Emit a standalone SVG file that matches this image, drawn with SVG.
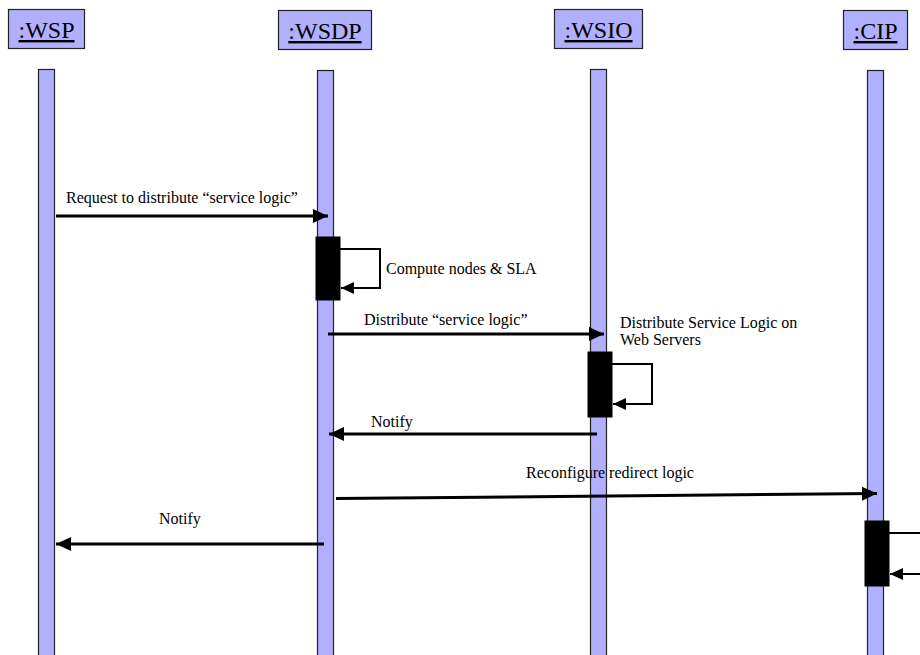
<svg xmlns="http://www.w3.org/2000/svg" width="920" height="655" viewBox="0 0 920 655">
<style>
.hd{fill:#b0b0ff;stroke:#222;stroke-width:1.2}
.ht{font-family:"Liberation Serif",serif;font-size:24px;fill:#000;text-anchor:middle;text-decoration:underline}
.ll{fill:#b0b0ff;stroke:#222;stroke-width:1.2}
.act{fill:#000;stroke:#000;stroke-width:1}
.msg{stroke:#000;stroke-width:3;fill:none}
.self{stroke:#000;stroke-width:2;fill:none}
.lb{font-family:"Liberation Serif",serif;font-size:16px;fill:#000}
</style>
<defs>
<marker id="ah" markerUnits="userSpaceOnUse" markerWidth="16" markerHeight="14" refX="15" refY="7" orient="auto">
<path d="M0,0 L15,7 L0,14 Z" fill="#000"/>
</marker>
<marker id="ahs" markerUnits="userSpaceOnUse" markerWidth="14" markerHeight="12" refX="13" refY="6" orient="auto">
<path d="M0,0 L13,6 L0,12 Z" fill="#000"/>
</marker>
</defs>
<rect width="920" height="655" fill="#fff"/>
<g id="wsp">
<rect class="hd" x="8.5" y="9.5" width="76" height="39"/>
<text class="ht" x="46.5" y="38">:WSP</text>
<rect class="ll" x="38.5" y="69.5" width="16" height="600"/>
</g>
<g id="wsdp">
<rect class="hd" x="278.5" y="10.5" width="93" height="39"/>
<text class="ht" x="325" y="39">:WSDP</text>
<rect class="ll" x="317.5" y="70.5" width="16" height="600"/>
<rect class="act" x="316" y="237" width="24" height="63"/>
</g>
<g id="wsio">
<rect class="hd" x="554.5" y="9.5" width="88" height="39"/>
<text class="ht" x="598.5" y="38">:WSIO</text>
<rect class="ll" x="590.5" y="69.5" width="16" height="600"/>
<rect class="act" x="588" y="352" width="24" height="65"/>
</g>
<g id="cip">
<rect class="hd" x="843.5" y="10.5" width="64" height="39"/>
<text class="ht" x="875.5" y="39">:CIP</text>
<rect class="ll" x="867.5" y="70.5" width="16" height="600"/>
<rect class="act" x="865" y="521" width="24" height="65"/>
</g>
<g id="connectors">
<line class="msg" x1="56" y1="216" x2="328" y2="216" marker-end="url(#ah)"/>
<polyline class="self" points="340,249 380,249 380,288 341,288" marker-end="url(#ahs)"/>
<line class="msg" x1="328" y1="334" x2="604" y2="334" marker-end="url(#ah)"/>
<polyline class="self" points="612,364 652,364 652,404 613,404" marker-end="url(#ahs)"/>
<line class="msg" x1="597" y1="434" x2="329" y2="434" marker-end="url(#ah)"/>
<line class="msg" x1="336" y1="498.5" x2="877" y2="493.5" marker-end="url(#ah)"/>
<polyline class="self" points="889,533 925,533"/>
<line class="self" x1="925" y1="574" x2="890" y2="574" marker-end="url(#ahs)"/>
<line class="msg" x1="324" y1="544" x2="56" y2="544" marker-end="url(#ah)"/>
</g>
<g id="labels">
<text class="lb" x="66" y="203">Request to distribute “service logic”</text>
<text class="lb" x="386" y="274">Compute nodes &amp; SLA</text>
<text class="lb" x="364" y="325">Distribute “service logic”</text>
<text class="lb" x="620" y="328">Distribute Service Logic on</text>
<text class="lb" x="620" y="345">Web Servers</text>
<text class="lb" x="371" y="427">Notify</text>
<text class="lb" x="526" y="478">Reconfigure redirect logic</text>
<text class="lb" x="159" y="524">Notify</text>
</g>
</svg>
